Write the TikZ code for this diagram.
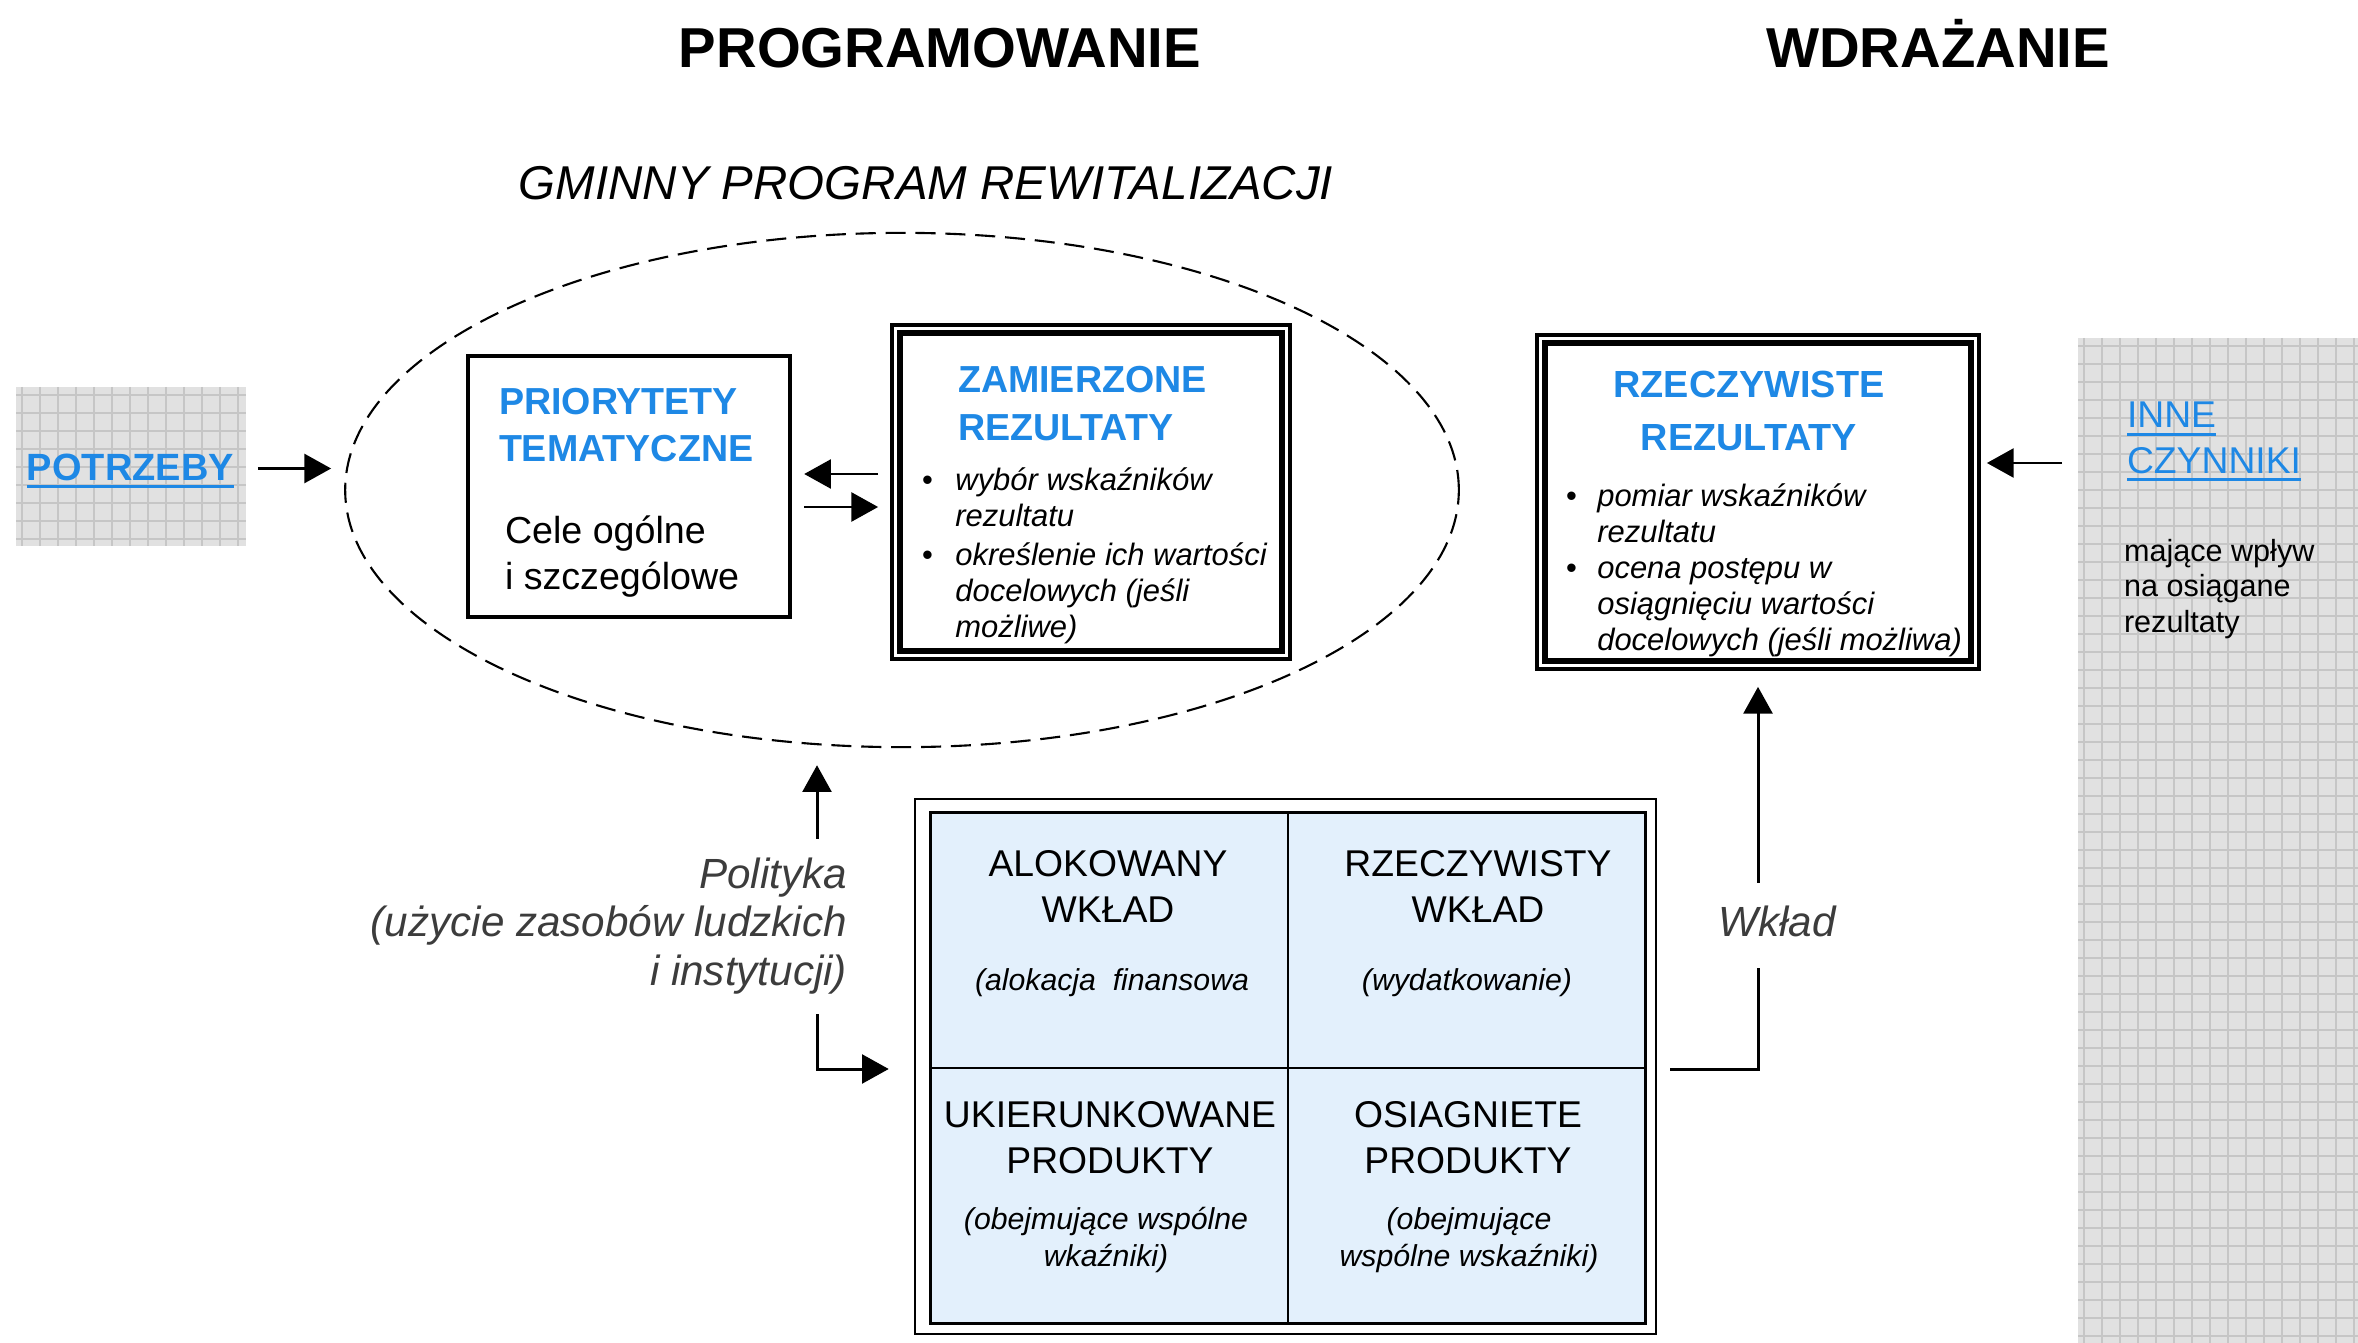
\documentclass[tikz,border=0pt]{standalone}
\usepackage{fontspec}
\setmainfont{Liberation Sans}
\usetikzlibrary{arrows.meta,calc,shapes.geometric}
\definecolor{headblue}{HTML}{1E88E5}
\definecolor{cellblue}{HTML}{E3F0FC}
\definecolor{gridbg}{HTML}{E1E1E1}
\definecolor{gridln}{HTML}{C6C6C6}
\definecolor{captxt}{HTML}{3C3C3C}
% font size helper and stacked lines aligned on the first baseline
\newcommand\fsz[2]{\fontsize{#1}{#2}\selectfont}
\newcommand\rows[2]{\begin{tabular}[t]{@{}#1@{}}#2\end{tabular}}
% underline drawn in the current text colour
\newcommand\ulblue[1]{\setbox0\hbox{#1}\rlap{\rule[-2.4pt]{\wd0}{0.85pt}}\box0}
\newcommand\bul[1]{\makebox[#1][l]{\upshape\textbullet}}
\begin{document}
\begin{tikzpicture}[x=0.01cm,y=-0.01cm,
  txt/.style={inner sep=0pt,outer sep=0pt},
  arr/.style={line width=0.85pt,-{Triangle[length=7.6pt,width=8.2pt]}},
  link/.style={line width=0.85pt},
  gridbox/.style={rectangle,fill=gridbg,inner sep=0pt},
  gridline/.style={gridln,line width=0.55pt},
  head/.style={txt,font=\bfseries\fsz{10.7}{13.4},text=headblue}]
\useasboundingbox (0,0) rectangle (2358,1343);

% ---- titles
\node[txt,anchor=base,font=\bfseries\fsz{16}{19}] (tprog) at (940,68) {PROGRAMOWANIE};
\node[txt,anchor=base,font=\bfseries\fsz{16}{19}] (twdr) at (1938,68) {WDRAŻANIE};
\node[txt,anchor=base,font=\itshape\fsz{13.5}{16}] (tgpr) at (926,200) {GMINNY PROGRAM REWITALIZACJI};

% ---- squared grey patches
\node[gridbox,minimum width=2.30cm,minimum height=1.59cm] (potrz) at (131,466.5) {};
\foreach \k in {0,...,12} \draw[gridline] (22+18*\k,387) -- (22+18*\k,546);
\foreach \k in {0,...,8} \draw[gridline] (16,395+18*\k) -- (246,395+18*\k);
\node[txt,anchor=base west,font=\bfseries\fsz{10.8}{13},text=headblue] (potrztxt) at (27,480) {\ulblue{POTRZEBY}};

\node[gridbox,minimum width=2.80cm,minimum height=10.05cm] (inne) at (2218,840.5) {};
\foreach \k in {0,...,15} \draw[gridline] (2084+18*\k,338) -- (2084+18*\k,1343);
\foreach \k in {0,...,55} \draw[gridline] (2078,346+18*\k) -- (2358,346+18*\k);
\node[txt,anchor=base west,font=\fsz{10.6}{12.8},text=headblue] (innehead) at (2127,428) {\rows{l}{\ulblue{INNE}\\\ulblue{CZYNNIKI}}};
\node[txt,anchor=base west,font=\fsz{8.7}{10.1}] (innebody) at (2124,561) {\rows{l}{mające wpływ\\na osiągane\\rezultaty}};

% ---- programme ellipse
\node[draw,ellipse,line width=0.6pt,dash pattern=on 5.7pt off 2.8pt,inner sep=0pt,
      minimum width=11.13cm,minimum height=5.14cm] (gpr) at (902,490) {};

% ---- thematic priorities
\node[draw,rectangle,line width=1.2pt,inner sep=0pt,minimum width=3.22cm,minimum height=2.61cm] (prior) at (629,486.5) {};
\node[head,anchor=base west] (priorhead) at (499,414) {\rows{l}{PRIORYTETY\\TEMATYCZNE}};
\node[txt,anchor=base west,font=\fsz{10.7}{13.1}] (priorbody) at (505,543) {\rows{l}{Cele ogólne\\i szczególowe}};

% ---- intended results
\node[draw,rectangle,line width=1pt,fill=white,inner sep=0pt,minimum width=3.98cm,minimum height=3.34cm] (zam) at (1091,492) {};
\draw[line width=1.6pt] ($(zam.north west)+(10,10)$) rectangle ($(zam.south east)+(-10,-10)$);
\node[head,anchor=base west] (zamhead) at (958,393) {\rows{l}{ZAMIERZONE\\REZULTATY}};
\node[txt,anchor=base west,font=\itshape\fsz{8.8}{10.24}] (zamlist) at (922,490) {\rows{l@{}l}{%
  \bul{9.5pt} & wybór wskaźników\\
  & rezultatu\\[1pt]
  \bul{9.5pt} & określenie ich wartości\\
  & docelowych (jeśli\\
  & możliwe)}};

% ---- actual results
\node[draw,rectangle,line width=1pt,fill=white,inner sep=0pt,minimum width=4.42cm,minimum height=3.34cm] (rz) at (1758,502) {};
\draw[line width=1.6pt] ($(rz.north west)+(10,10)$) rectangle ($(rz.south east)+(-10,-10)$);
\node[txt,anchor=base,font=\bfseries\fsz{10.75}{14.8},text=headblue] (rzhead) at (1749,398) {\rows{c}{RZECZYWISTE\\REZULTATY}};
\node[txt,anchor=base west,font=\itshape\fsz{8.8}{10.24}] (rzlist) at (1566,506) {\rows{l@{}l}{%
  \bul{8.9pt} & pomiar wskaźników\\
  & rezultatu\\
  \bul{8.9pt} & ocena postępu w\\
  & osiągnięciu wartości\\
  & docelowych (jeśli możliwa)}};

% ---- input / output matrix
\node[draw,rectangle,line width=0.6pt,inner sep=0pt,minimum width=7.41cm,minimum height=5.35cm] (mat) at (1285.5,1066.5) {};
\node[draw,rectangle,line width=0.8pt,fill=cellblue,inner sep=0pt,minimum width=7.14cm,minimum height=5.10cm] (matin) at (1288,1068) {};
\draw[line width=0.7pt] (matin.north) -- (matin.south);
\draw[line width=0.7pt] (matin.west) -- (matin.east);
\node[txt,anchor=base,font=\fsz{10.6}{13.1}] (c11) at (1108,876) {\rows{c}{ALOKOWANY\\WKŁAD}};
\node[txt,anchor=base,font=\itshape\fsz{8.6}{10.8}] (c11n) at (1112,990) {(alokacja\ \ finansowa};
\node[txt,anchor=base,font=\fsz{10.6}{13.1}] (c12) at (1478,876) {\rows{c}{RZECZYWISTY\\WKŁAD}};
\node[txt,anchor=base,font=\itshape\fsz{8.6}{10.8}] (c12n) at (1467,990) {(wydatkowanie)};
\node[txt,anchor=base,font=\fsz{10.6}{13.1}] (c21) at (1110,1127) {\rows{c}{UKIERUNKOWANE\\PRODUKTY}};
\node[txt,anchor=base,font=\itshape\fsz{8.6}{10.8}] (c21n) at (1106,1229) {\rows{c}{(obejmujące wspólne\\wkaźniki)}};
\node[txt,anchor=base,font=\fsz{10.6}{13.1}] (c22) at (1468,1127) {\rows{c}{OSIAGNIETE\\PRODUKTY}};
\node[txt,anchor=base,font=\itshape\fsz{8.6}{10.8}] (c22n) at (1469,1229) {\rows{c}{(obejmujące\\wspólne wskaźniki)}};

% ---- captions on the links
\node[txt,anchor=base east,font=\itshape\fsz{12}{13.9},text=captxt] (pol) at (847,888) {\rows{r}{Polityka\\(użycie zasobów ludzkich\\i instytucji)}};
\node[txt,anchor=base,font=\itshape\fsz{12}{14},text=captxt] (wklad) at (1777,936) {Wkład};

% ---- connectors
\draw[arr] ($(potrz.east)+(11,2)$) -- ($(potrz.east -| gpr.west)+(-13,2)$);
\draw[arr] ($(zam.west)+(-12,-18)$) -- ($(prior.east)+(12,-12.5)$);
\draw[arr] ($(prior.east)+(12,20.5)$) -- ($(zam.west)+(-12,15)$);
\draw[arr] ($(rz.east -| inne.west)+(-15,-39)$) -- ($(rz.east)+(6,-39)$);

\coordinate (polx) at ($(pol.north east)+(-30,0)$);
\draw[arr] ($(polx)+(0,-15)$) -- ($(polx |- gpr.south)+(0,17)$);
\draw[arr] ($(polx |- pol.south)+(0,14)$) |- ($(mat.west)+(-25,2.5)$);

\coordinate (wk) at (rz.south |- wklad.center);
\draw[link] ($(mat.east)+(13,2.5)$) -| ($(wk)+(0,47)$);
\draw[arr] ($(wk)+(0,-38)$) -- ($(rz.south)+(0,16)$);
\end{tikzpicture}
\end{document}
